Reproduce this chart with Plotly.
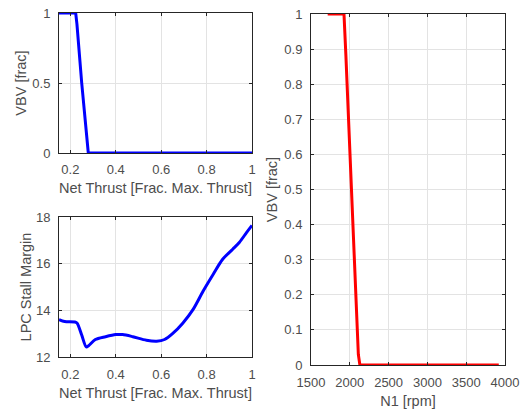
import plotly.graph_objects as go

# Top-left: VBV vs net thrust
thrust_vbv = [0.15, 0.2235, 0.229, 0.25, 0.279, 0.30, 1.0]
vbv_thrust = [1.0, 1.0, 0.92, 0.5, 0.0, 0.0, 0.0]

# Bottom-left: LPC stall margin vs net thrust
thrust_sm = [0.15, 0.175, 0.22, 0.23, 0.25, 0.27, 0.28, 0.31, 0.355, 0.40, 0.43, 0.475,
             0.535, 0.58, 0.615, 0.65, 0.695, 0.74, 0.785, 0.83, 0.87, 0.915, 0.945, 0.975, 1.0]
stall_margin = [13.60, 13.52, 13.50, 13.45, 12.94, 12.43, 12.48, 12.75, 12.87, 12.96, 12.96, 12.87,
                12.72, 12.68, 12.75, 13.0, 13.45, 14.03, 14.83, 15.56, 16.18, 16.62, 16.92, 17.32, 17.64]

# Right: VBV vs N1
n1_rpm = [1715, 1925, 1950, 2018, 2093, 2110, 2130, 3920]
vbv_n1 = [1.0, 1.0, 0.88, 0.5, 0.1, 0.03, 0.0, 0.0]

x_ticks_thrust = [0.2, 0.4, 0.6, 0.8, 1.0]
x_ticklabels_thrust = ["0.2", "0.4", "0.6", "0.8", "1"]

W, H = 522, 409
def px_x(a, b):
    return [a / W, b / W]
def px_y(top, bottom):
    return [1 - bottom / H, 1 - top / H]

TXT = "#4d4d4d"
AX = "#262626"
GRID = "#e3e3e3"
FONT = "Liberation Sans, Arial, Helvetica, sans-serif"

def axis_common(labstand):
    return dict(showline=True, linecolor=AX, linewidth=1, mirror="allticks",
                ticks="inside", ticklen=3, tickcolor=AX, tickwidth=1,
                showgrid=True, gridcolor=GRID, gridwidth=1, zeroline=False,
                automargin=False, ticklabelstandoff=labstand,
                tickfont=dict(size=13, color=TXT, family=FONT),
                title_font=dict(size=14.5, color=TXT, family=FONT))

fig = go.Figure()
fig.add_trace(go.Scatter(x=thrust_vbv, y=vbv_thrust, mode="lines",
                         line=dict(color="#0000ff", width=3), xaxis="x", yaxis="y"))
fig.add_trace(go.Scatter(x=thrust_sm, y=stall_margin, mode="lines", line_shape="spline",
                         line=dict(color="#0000ff", width=3, smoothing=0.8), xaxis="x2", yaxis="y2"))
fig.add_trace(go.Scatter(x=n1_rpm, y=vbv_n1, mode="lines",
                         line=dict(color="#ff0000", width=3), xaxis="x3", yaxis="y3"))

fig.update_layout(
    width=W, height=H, margin=dict(l=0, r=0, t=0, b=0),
    paper_bgcolor="white", plot_bgcolor="white", showlegend=False,
    font=dict(family=FONT, color=TXT),
    xaxis=dict(domain=px_x(59, 252), anchor="y", range=[0.15, 1],
               tickvals=x_ticks_thrust, ticktext=x_ticklabels_thrust,
               title=dict(text="Net Thrust [Frac. Max. Thrust]", standoff=7), **axis_common(4)),
    yaxis=dict(domain=px_y(13, 153), anchor="x", range=[0, 1], dtick=0.5,
               title=dict(text="VBV [frac]", standoff=2), **axis_common(5)),
    xaxis2=dict(domain=px_x(59, 252), anchor="y2", range=[0.15, 1],
                tickvals=x_ticks_thrust, ticktext=x_ticklabels_thrust,
                title=dict(text="Net Thrust [Frac. Max. Thrust]", standoff=7), **axis_common(5)),
    yaxis2=dict(domain=px_y(217, 357), anchor="x2", range=[12, 18], dtick=2,
                title=dict(text="LPC Stall Margin", standoff=0), **axis_common(5)),
    xaxis3=dict(domain=px_x(311, 505), anchor="y3", range=[1500, 4000], dtick=500,
                title=dict(text="N1 [rpm]", standoff=7), **axis_common(5)),
    yaxis3=dict(domain=px_y(14, 365), anchor="x3", range=[0, 1], dtick=0.1,
                title=dict(text="VBV [frac]", standoff=3), **axis_common(5)),
)

fig.write_html("out.html")
